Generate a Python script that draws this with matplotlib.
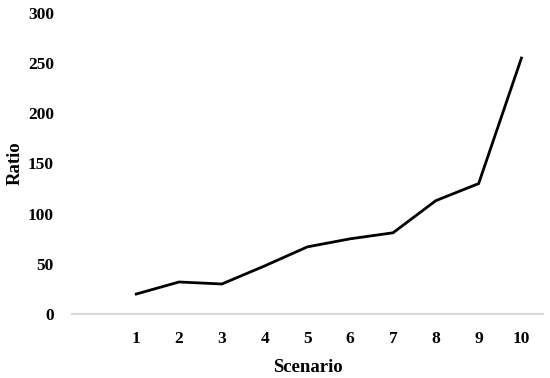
import matplotlib.pyplot as plt

scenarios = [1, 2, 3, 4, 5, 6, 7, 8, 9, 10]
ratio = [20, 32, 30, 48, 67, 75, 81, 113, 130, 255]
yticks = [0, 50, 100, 150, 200, 250, 300]

plt.rcParams['font.family'] = ['Liberation Serif', 'DejaVu Serif']

fig = plt.figure(figsize=(5.5, 3.78), dpi=100)
ax = fig.add_axes([0.131, 0.169, 0.856, 0.797])

ax.plot(scenarios, ratio, color='black', linewidth=2.0, solid_joinstyle='miter')

ax.set_xlim(-0.5, 10.5)
ax.set_ylim(0, 300)
ax.set_xticks(scenarios)
ax.set_yticks(yticks)
ax.tick_params(axis='x', length=0, pad=12, labelsize=12.5)
ax.tick_params(axis='y', length=0, pad=13, labelsize=12.5)
for lab in ax.get_xticklabels() + ax.get_yticklabels():
    lab.set_fontweight('bold')

for s in ['top', 'right', 'left']:
    ax.spines[s].set_visible(False)
ax.spines['bottom'].set_color('#d9d9d9')
ax.spines['bottom'].set_linewidth(1.5)

ax.set_xlabel('Scenario', fontsize=13.5, fontweight='bold', labelpad=9)
ax.set_ylabel('Ratio', fontsize=13.5, fontweight='bold', labelpad=3)

fig.savefig('out.png', dpi=100)
